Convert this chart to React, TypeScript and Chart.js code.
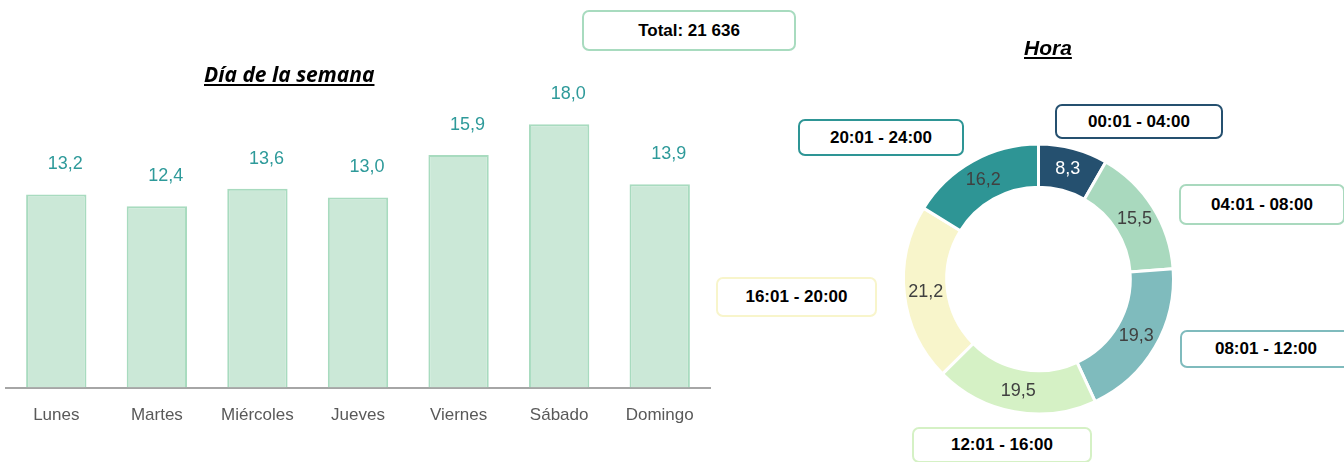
import React, { useEffect, useRef } from "react";
import { Chart, registerables } from "chart.js";

Chart.register(...registerables);

// ---------- data ----------
const days = ["Lunes", "Martes", "Miércoles", "Jueves", "Viernes", "Sábado", "Domingo"];
const dayValues = [13.2, 12.4, 13.6, 13.0, 15.9, 18.0, 13.9];

const hourRanges = ["00:01 - 04:00", "04:01 - 08:00", "08:01 - 12:00", "12:01 - 16:00", "16:01 - 20:00", "20:01 - 24:00"];
const hourValues = [8.3, 15.5, 19.3, 19.5, 21.2, 16.2];
const hourColors = ["#25506f", "#a9d9be", "#7fbbbd", "#d5f1c5", "#f8f5cb", "#2e9595"];
const hourValueColors = ["#ffffff", "#404040", "#404040", "#404040", "#404040", "#404040"];

const totalLabel = "Total: 21 636";
const barTitle = "Día de la semana";
const donutTitle = "Hora";

// ---------- layout (not data) ----------
const boxLayout = [
  { left: 1055, top: 104, width: 168, height: 35 },
  { left: 1179, top: 184, width: 166, height: 41 },
  { left: 1180, top: 330, width: 172, height: 38 },
  { left: 912, top: 427, width: 180, height: 36 },
  { left: 716, top: 277, width: 161, height: 40 },
  { left: 798, top: 119, width: 166, height: 37 },
];

const SANS = "'Liberation Sans', Arial, sans-serif";
const fmt = (v: number) => v.toFixed(1).replace(".", ",");

const barLabelPlugin = {
  id: "barLabels",
  afterDatasetsDraw(chart: any) {
    const ctx = chart.ctx;
    const meta = chart.getDatasetMeta(0);
    ctx.save();
    ctx.font = `18px ${SANS}`;
    ctx.fillStyle = "#2e9a9a";
    ctx.textAlign = "center";
    ctx.textBaseline = "middle";
    meta.data.forEach((bar: any, i: number) => {
      ctx.fillText(fmt(dayValues[i]), bar.x + 9, bar.y - 30);
    });
    ctx.restore();
  },
};

const donutLabelPlugin = {
  id: "donutLabels",
  afterDatasetsDraw(chart: any) {
    const ctx = chart.ctx;
    const meta = chart.getDatasetMeta(0);
    ctx.save();
    ctx.font = `18px ${SANS}`;
    ctx.textAlign = "center";
    ctx.textBaseline = "middle";
    meta.data.forEach((arc: any, i: number) => {
      const p = arc.tooltipPosition();
      ctx.fillStyle = hourValueColors[i];
      ctx.fillText(fmt(hourValues[i]), p.x, p.y);
    });
    ctx.restore();
  },
};

export default function App() {
  const barRef = useRef<HTMLCanvasElement>(null);
  const donutRef = useRef<HTMLCanvasElement>(null);

  useEffect(() => {
    const bar = new Chart(barRef.current!, {
      type: "bar",
      data: {
        labels: days,
        datasets: [
          {
            data: dayValues,
            backgroundColor: "#cbe8d7",
            borderColor: "#a8dbbf",
            borderWidth: 2,
            barPercentage: 0.6,
            categoryPercentage: 1,
          },
        ],
      },
      options: {
        animation: false,
        responsive: false,
        maintainAspectRatio: false,
        layout: { padding: { left: 6, right: 6, top: 95, bottom: 18 } },
        plugins: { legend: { display: false }, tooltip: { enabled: false }, title: { display: false } },
        scales: {
          x: {
            grid: { display: false, drawTicks: false },
            border: { display: true, color: "#a6a6a6", width: 2 },
            ticks: { color: "#595959", font: { family: SANS, size: 17 }, padding: 18 },
          },
          y: { display: false, min: 0, max: 20 },
        },
      },
      plugins: [barLabelPlugin],
    });

    const donut = new Chart(donutRef.current!, {
      type: "doughnut",
      data: {
        labels: hourRanges,
        datasets: [
          {
            data: hourValues,
            backgroundColor: hourColors,
            borderColor: "#ffffff",
            borderWidth: 3,
          },
        ],
      },
      options: {
        animation: false,
        responsive: false,
        maintainAspectRatio: false,
        radius: 135,
        cutout: "68%",
        layout: { padding: { left: 13, top: 96, right: 0, bottom: 0 } },
        plugins: { legend: { display: false }, tooltip: { enabled: false } },
      } as any,
      plugins: [donutLabelPlugin],
    });

    return () => {
      bar.destroy();
      donut.destroy();
    };
  }, []);

  const titleStyle: React.CSSProperties = {
    position: "absolute",
    fontWeight: 700,
    fontStyle: "italic",
    textDecoration: "underline",
    color: "#000",
    whiteSpace: "nowrap",
    lineHeight: 1,
  };

  return (
    <div style={{ position: "absolute", left: 0, top: 0, width: 1344, height: 462, overflow: "hidden", background: "#fff" }}>
      <canvas ref={barRef} width={716} height={462} style={{ position: "absolute", left: 0, top: 0 }} />
      <canvas ref={donutRef} width={624} height={462} style={{ position: "absolute", left: 720, top: 0 }} />

      <div style={{ ...titleStyle, left: 204, top: 64, fontFamily: "'Open Sans', sans-serif", fontSize: 21 }}>{barTitle}</div>
      <div style={{ ...titleStyle, left: 1024, top: 37, fontFamily: SANS, fontSize: 21 }}>{donutTitle}</div>

      <div
        style={{
          position: "absolute", left: 582, top: 10, width: 214, height: 41, boxSizing: "border-box",
          border: "2px solid #a8dbbf", borderRadius: 7, background: "#fff",
          display: "flex", alignItems: "center", justifyContent: "center",
          fontFamily: SANS, fontWeight: 700, fontSize: 17, color: "#000",
        }}
      >
        {totalLabel}
      </div>

      {hourRanges.map((label, i) => (
        <div
          key={label}
          style={{
            position: "absolute", left: boxLayout[i].left, top: boxLayout[i].top,
            width: boxLayout[i].width, height: boxLayout[i].height, boxSizing: "border-box",
            border: `2px solid ${hourColors[i]}`, borderRadius: 7, background: "#fff",
            display: "flex", alignItems: "center", justifyContent: "center",
            fontFamily: SANS, fontWeight: 700, fontSize: 17, color: "#000", whiteSpace: "nowrap",
          }}
        >
          {label}
        </div>
      ))}
    </div>
  );
}
